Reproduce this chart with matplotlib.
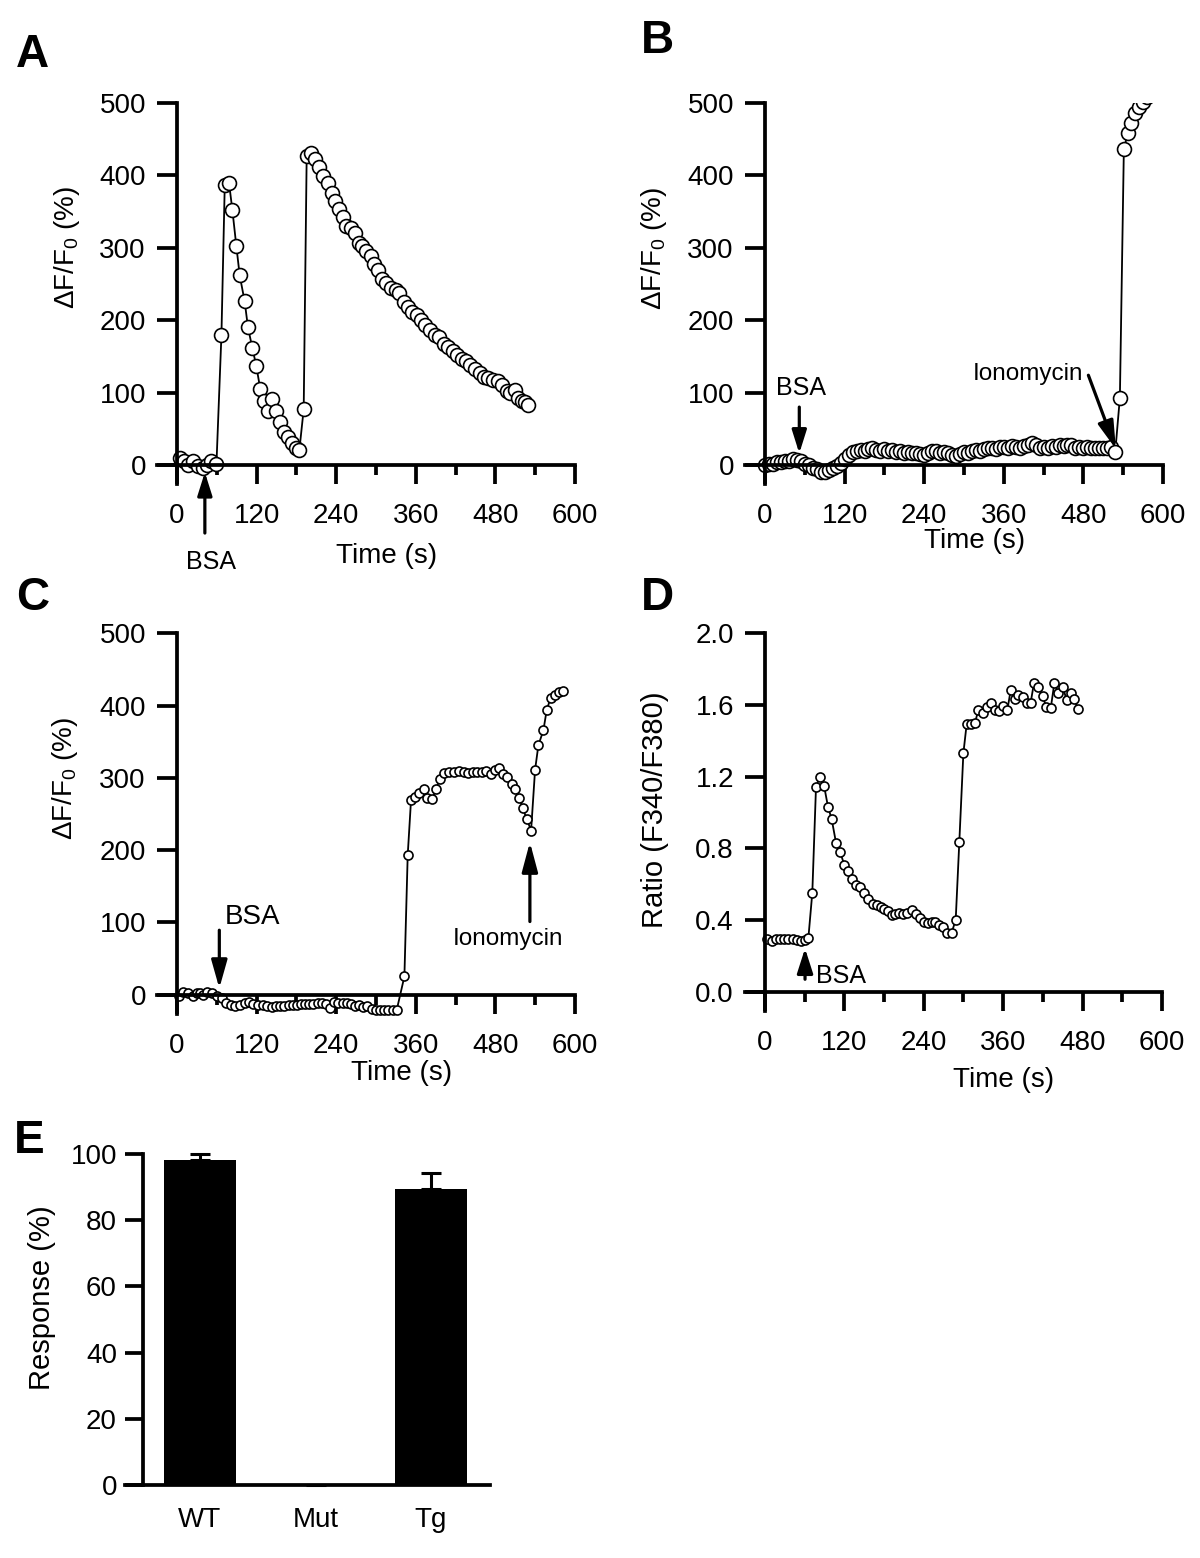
#!/usr/bin/env python3
"""Calcium imaging traces (A-D) and response summary (E)."""

import matplotlib
matplotlib.use("Agg")
import matplotlib.pyplot as plt
from matplotlib.ticker import FixedLocator, FormatStrFormatter

plt.rcParams['font.family'] = ['Liberation Sans', 'DejaVu Sans']
plt.rcParams['mathtext.fontset'] = 'custom'
plt.rcParams['mathtext.rm'] = 'Liberation Sans'
plt.rcParams['mathtext.it'] = 'Liberation Sans:italic'

W, H = 1200, 1558

# ---- data -------------------------------------------------------------
A_T = [4.5, 10.5, 17, 24.5, 32, 39.5, 44.5, 52, 59.5, 67, 72, 78.5, 83.5,
       89.5, 94.5, 102, 107, 113.5, 119.5, 125.5, 131, 137, 143.5, 149.5,
       156, 162, 167, 173.5, 179.5, 184.5, 191, 195.5, 202, 208.5, 214.5,
       220.5, 227, 233.5, 238.5, 244.5, 249.5, 254.5, 262, 268.5, 274.5,
       279.5, 285.5, 292, 297, 303.5, 309.5, 315.5, 322, 329.5, 334.5, 342,
       348.5, 354.5, 362, 368.5, 374.5, 382, 388.5, 394.5, 402, 408.5, 415.5,
       422, 429.5, 435.5, 442, 449.5, 457, 463.5, 469.5, 477, 483.5, 489.5,
       497, 502, 509.5, 514.5, 519.5, 524.5, 529.5]
A_V = [9, 6, 0, 5, -2, -4, 0, 6, 2, 180, 387, 389, 352, 302, 262, 226, 190,
       162, 137, 105, 88, 74, 91, 75, 60, 45, 39, 31, 23, 21, 77, 427, 431,
       423, 411, 399, 389, 375, 365, 353, 343, 330, 327, 320, 307, 302, 295,
       289, 278, 269, 257, 251, 245, 242, 237, 225, 218, 212, 207, 200, 193,
       186, 179, 177, 167, 163, 157, 152, 146, 143, 138, 132, 127, 122, 120,
       117, 116, 110, 102, 99, 103, 92, 89, 87, 83]

B_T = [0, 6, 12, 18, 24, 30, 36, 42, 48, 54, 60, 66, 72, 78, 84, 90, 96,
       102, 108, 114, 120, 126, 132, 138, 144, 150, 156, 162, 168, 174, 180,
       186, 192, 198, 204, 210, 216, 222, 228, 234, 240, 246, 252, 258, 264,
       270, 276, 282, 288, 294, 300, 306, 312, 318, 324, 330, 336, 342, 348,
       354, 360, 366, 372, 378, 384, 390, 396, 402, 408, 414, 420, 426, 432,
       438, 444, 450, 456, 462, 468, 474, 480, 486, 492, 498, 504, 510, 516,
       522, 528, 535, 541, 547, 552, 558, 564, 570, 576]
B_V = [0, 1, 2, 4, 4, 5, 6, 8, 7, 6, 2, 0, -4, -6, -9, -9, -7, -4, -1, 3, 8,
       14, 18, 20, 21, 19, 22, 23, 21, 20, 22, 19, 21, 18, 19, 17, 18, 16, 17,
       15, 14, 16, 20, 19, 17, 18, 16, 14, 12, 15, 18, 17, 19, 21, 20, 22, 23,
       24, 22, 25, 25, 24, 26, 25, 24, 26, 28, 30, 27, 24, 25, 24, 26, 25, 27,
       26, 28, 27, 24, 25, 24, 25, 23, 24, 23, 24, 24, 25, 18, 93, 437, 458,
       472, 486, 495, 502, 508]

C_T = [3.5, 9.6, 17.1, 23.6, 29.7, 34.7, 39.7, 45.7, 52.3, 59.8, 67.4, 73.9,
       80.9, 87.5, 95, 102.5, 109.1, 115.1, 122.6, 130.2, 136.2, 142.8, 149.3,
       155.3, 161.9, 168.4, 174.4, 180.4, 187, 193.5, 199.5, 205.6, 212.1,
       218.1, 224.7, 230.7, 236.7, 243.3, 249.8, 255.8, 262.4, 268.4, 274.9,
       281, 287, 293.5, 300.1, 306.1, 312.6, 318.7, 325.2, 331.2,
       342.8, 347.8, 352.8, 358.9, 365.4, 372.4, 377.5, 385, 390.5, 396.6,
       403.1, 410.6, 417.7, 425.7, 432.7, 439.3, 446.8, 452.8, 459.4, 465.9,
       472.9, 479.5, 486, 491, 498.1, 504.6, 509.6, 516.2, 521.2, 527.2,
       533.8, 539.8, 544.8, 552.4, 557.4, 563.4, 570, 576.5, 582.5]
C_V = [-2.3, 3.7, 1.4, -2.3, 1.4, 2.3, -0.9, 3.7, 2.3, -2.3, -5.5, -11.5,
       -14.7, -16.1, -14.7, -12.4, -10.1, -13.4, -14.7, -14.7, -16.1, -17,
       -16.1, -16.1, -15.7, -15.2, -14.7, -14.3, -13.8, -13.4, -12.9, -13.4,
       -12.4, -12, -12.9, -18, -10.1, -11.5, -12.4, -11.5, -13.8, -15.7,
       -14.7, -17, -15.7, -20.3, -21.6, -21.6, -21.2, -21.2, -21.2, -21.6,
       25, 193, 269, 274, 279, 285, 272, 270, 285, 298, 307, 308, 308, 310,
       308, 307, 308, 308, 308, 310, 305, 311, 313, 305, 301, 292, 284, 272,
       258, 243, 227, 311, 345, 366, 394, 411, 414, 419, 420]

D_T = [2.5, 10, 16.6, 22.7, 28.7, 35.3, 41.8, 47.9, 53.9, 60.5, 65.5, 71.5,
       77.1, 83.1, 89.2, 95.2, 100.8, 107.3, 113.3, 119.9, 125.9, 131.5,
       137.5, 143.6, 150.1, 156.2, 162.7, 168.8, 174.8, 179.8, 185.4, 191.4,
       196.5, 203, 209.1, 215.1, 221.7, 228.2, 234.3, 240.3, 246.9, 251.9,
       256.9, 263, 269.5, 275.6, 282.1, 288.2, 293.7, 299.8, 304.8, 310.8,
       317.4, 322.4, 329, 335, 341.1, 347.6, 353.7, 360.2, 366.3, 371.3,
       377.8, 382.9, 389.4, 395.5, 401.5, 406.6, 413.1, 419.7, 424.7, 431.8,
       437.3, 443.3, 449.9, 455.9, 462, 467, 473.6]
D_V = [0.293, 0.286, 0.293, 0.293, 0.293, 0.293, 0.293, 0.290, 0.286, 0.290,
       0.299, 0.553, 1.144, 1.200, 1.150, 1.032, 0.962, 0.832, 0.782, 0.708,
       0.676, 0.628, 0.596, 0.587, 0.550, 0.516, 0.490, 0.485, 0.472, 0.460,
       0.453, 0.429, 0.435, 0.438, 0.435, 0.442, 0.457, 0.435, 0.410, 0.392,
       0.383, 0.392, 0.392, 0.373, 0.364, 0.327, 0.331, 0.401, 0.838, 1.330,
       1.493, 1.493, 1.500, 1.571, 1.552, 1.590, 1.612, 1.571, 1.567, 1.593,
       1.571, 1.682, 1.630, 1.655, 1.642, 1.612, 1.612, 1.723, 1.701, 1.649,
       1.590, 1.580, 1.720, 1.668, 1.701, 1.627, 1.668, 1.630, 1.575]

E_GROUPS = ['WT', 'Mut', 'Tg']
E_RESP = [98.2, 0, 89.3]
E_ERR = [1.7, float('nan'), 4.9]

TIME_TICKS = [0, 120, 240, 360, 480, 600]
TIME_MINOR = [60, 180, 300, 420, 540]
DFF_TICKS = [0, 100, 200, 300, 400, 500]
RATIO_TICKS = [0.0, 0.4, 0.8, 1.2, 1.6, 2.0]
RESP_TICKS = [0, 20, 40, 60, 80, 100]

DFF_LABEL = 'ΔF/F$_\\mathregular{0}$ (%)'
LW_AX = 2.7
FS = 20


def fig_xy(px, py):
    return px / W, 1 - py / H


def place(fig, xlim, ylim, x0, sx, y0, sy):
    """Add axes so that data (0, 0) lands on pixel (x0, y0) with sx, sy px/unit."""
    left = x0 + xlim[0] * sx
    right = x0 + xlim[1] * sx
    top = y0 - ylim[1] * sy
    bottom = y0 - ylim[0] * sy
    ax = fig.add_axes([left / W, 1 - bottom / H, (right - left) / W, (bottom - top) / H])
    ax.set_xlim(xlim)
    ax.set_ylim(ylim)
    return ax


def style_trace(ax, sx, sy, yticks, ytop):
    for side in ['top', 'right']:
        ax.spines[side].set_visible(False)
    for side in ['left', 'bottom']:
        ax.spines[side].set_linewidth(LW_AX)
        ax.spines[side].set_position(('data', 0))
    # axes lines run on past the origin by one tick length
    ax.spines['left'].set_bounds(-19 / sy, ytop)
    ax.spines['bottom'].set_bounds(-20 / sx, 600)
    ax.xaxis.set_major_locator(FixedLocator(TIME_TICKS))
    ax.xaxis.set_minor_locator(FixedLocator(TIME_MINOR))
    ax.yaxis.set_major_locator(FixedLocator(yticks))
    ax.tick_params(axis='x', which='major', direction='out', length=13.7,
                   width=LW_AX, pad=14, labelsize=FS)
    ax.tick_params(axis='x', which='minor', direction='out', length=7,
                   width=LW_AX)
    ax.tick_params(axis='y', direction='out', length=14.4, width=LW_AX,
                   pad=8, labelsize=FS)


def trace(ax, t, v, ms):
    ax.plot(t, v, '-o', color='black', lw=1.3, ms=ms, mfc='white',
            mec='black', mew=1.2)


def arrow(ax, tip, tail, hl=0.7, hw=0.22):
    ax.annotate('', xy=tip, xytext=tail, annotation_clip=False,
                arrowprops=dict(arrowstyle=f'-|>,head_length={hl},head_width={hw}',
                                mutation_scale=20, lw=2.3, color='black',
                                shrinkA=0, shrinkB=0))


def axis_labels(ax, xlabel, xpos, ylabel, ypos, yfs=FS):
    ax.set_xlabel(xlabel, fontsize=FS)
    ax.xaxis.set_label_coords(*fig_xy(*xpos), transform=ax.figure.transFigure)
    ax.xaxis.label.set_va('center')
    ax.set_ylabel(ylabel, fontsize=yfs)
    ax.yaxis.set_label_coords(*fig_xy(*ypos), transform=ax.figure.transFigure)
    ax.yaxis.label.set_va('center')


fig = plt.figure(figsize=(W / 100, H / 100), dpi=100)

# ---- A ----------------------------------------------------------------
sx, sy = 398 / 600, 362 / 500
ax = place(fig, (-32, 610), (-30, 500), 177, sx, 465, sy)
style_trace(ax, sx, sy, DFF_TICKS, 500)
trace(ax, A_T, A_V, 10)
axis_labels(ax, 'Time (s)', (387, 556), DFF_LABEL, (67, 247))
arrow(ax, (42, -10), (42, -94))
ax.text(51, -143, 'BSA', ha='center', va='baseline', fontsize=18, clip_on=False)

# ---- B ----------------------------------------------------------------
ax = place(fig, (-32, 610), (-30, 500), 765, sx, 465, sy)
style_trace(ax, sx, sy, DFF_TICKS, 500)
trace(ax, B_T, B_V, 10)
axis_labels(ax, 'Time (s)', (975, 541), DFF_LABEL, (654, 248))
arrow(ax, (51.7, 16), (51.7, 80))
ax.text(55, 97, 'BSA', ha='center', va='baseline', fontsize=18)
arrow(ax, (529, 22), (487.5, 124), hl=0.85, hw=0.24)
ax.text(397, 117, 'Ionomycin', ha='center', va='baseline', fontsize=17.5)

# ---- C ----------------------------------------------------------------
sy_c = (994.5 - 633.3) / 500
ax = place(fig, (-32, 610), (-30, 500), 177, sx, 994.5, sy_c)
style_trace(ax, sx, sy_c, DFF_TICKS, 500)
trace(ax, C_T, C_V, 6.5)
axis_labels(ax, 'Time (s)', (402, 1073), DFF_LABEL, (65, 778))
arrow(ax, (63.8, 8.6), (63.8, 89), hl=0.85, hw=0.24)
ax.text(114, 97.6, 'BSA', ha='center', va='baseline', fontsize=20)
arrow(ax, (532, 211), (532, 101), hl=0.9, hw=0.24)
ax.text(499, 68.5, 'Ionomycin', ha='center', va='baseline', fontsize=17.5)

# ---- D ----------------------------------------------------------------
sx_d, sy_d = 397 / 600, 359 / 2.0
ax = place(fig, (-32, 610), (-0.12, 2.0), 765, sx_d, 992, sy_d)
style_trace(ax, sx_d, sy_d, RATIO_TICKS, 2.0)
ax.yaxis.set_major_formatter(FormatStrFormatter('%.1f'))
trace(ax, D_T, D_V, 6.5)
axis_labels(ax, 'Time (s)', (1004, 1080), 'Ratio (F340/F380)', (655, 810), yfs=21)
arrow(ax, (60.5, 0.243), (60.5, 0.071), hl=0.75, hw=0.24)
ax.text(115, 0.052, 'BSA', ha='center', va='baseline', fontsize=18)

# ---- E ----------------------------------------------------------------
pos = list(range(len(E_GROUPS)))
ax = place(fig, (-0.649, 2.511), (0, 100), 200, 115.5, 1485, 3.31)
ax.bar(pos, E_RESP, width=0.623, color='black')
eb = ax.errorbar(pos, E_RESP, yerr=[[0, 0, 0], E_ERR], fmt='none',
                 ecolor='black', elinewidth=2.2, capsize=7.5, capthick=2.2)
for art in eb.lines[1] + eb.lines[2]:
    art.set_clip_on(False)
for side in ['top', 'right']:
    ax.spines[side].set_visible(False)
ax.spines['left'].set_position(('data', -0.491))
ax.spines['left'].set_bounds(0, 100)
for side in ['left', 'bottom']:
    ax.spines[side].set_linewidth(LW_AX)
ax.set_xticks(pos)
ax.set_xticklabels(E_GROUPS)
ax.yaxis.set_major_locator(FixedLocator(RESP_TICKS))
ax.tick_params(axis='x', length=0, pad=15.5, labelsize=FS)
ax.tick_params(axis='y', direction='out', length=13, width=LW_AX, pad=6,
               labelsize=FS)
ax.set_ylabel('Response (%)', fontsize=21)
ax.yaxis.set_label_coords(*fig_xy(42, 1298), transform=fig.transFigure)
ax.yaxis.label.set_va('center')

# ---- panel letters ----------------------------------------------------
for letter, (px, py) in {'A': (32, 67), 'B': (657, 53), 'C': (33, 610),
                         'D': (657, 610), 'E': (29, 1153)}.items():
    fig.text(*fig_xy(px, py), letter, fontsize=33, fontweight='bold',
             ha='center', va='baseline')

fig.savefig('out.png', dpi=100)
